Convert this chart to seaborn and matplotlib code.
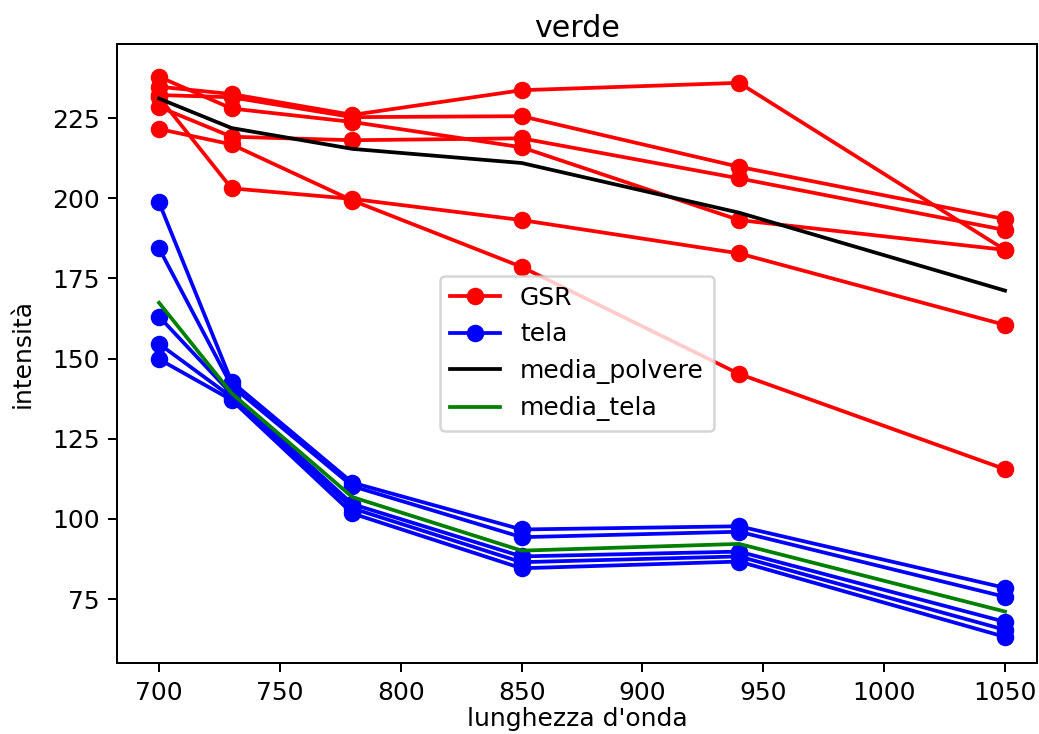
import matplotlib
matplotlib.use("Agg")
import matplotlib.pyplot as plt
import seaborn as sns
import pandas as pd

# Wavelengths (nm)
lunghezze = [700, 730, 780, 850, 940, 1050]

# GSR powder samples, intensity in the green channel
gsr_1 = [234.8, 232.5, 226.0, 233.7, 236.0, 183.9]
gsr_2 = [232.2, 231.5, 225.3, 225.6, 209.8, 193.5]
gsr_3 = [237.9, 228.0, 223.8, 215.9, 193.2, 183.9]
gsr_4 = [228.5, 219.2, 218.1, 218.7, 206.2, 190.1]
gsr_5 = [231.5, 203.1, 199.8, 193.2, 182.8, 160.5]
gsr_6 = [221.6, 216.8, 199.3, 178.6, 145.2, 115.5]

# Fabric samples
tela_1 = [198.7, 142.8, 111.3, 96.7, 97.7, 78.5]
tela_2 = [184.4, 141.5, 110.2, 94.3, 96.0, 75.7]
tela_3 = [163.1, 139.0, 104.6, 88.3, 89.8, 67.9]
tela_4 = [154.6, 138.0, 103.3, 86.5, 88.3, 65.4]
tela_5 = [149.8, 137.1, 101.7, 84.6, 86.7, 63.2]

# Averages
media_polvere = [231.1, 221.9, 215.4, 211.0, 195.5, 171.2]
media_tela = [167.4, 139.2, 106.8, 90.1, 92.2, 71.1]

gsr = [gsr_1, gsr_2, gsr_3, gsr_4, gsr_5, gsr_6]
tela = [tela_1, tela_2, tela_3, tela_4, tela_5]

plt.rcParams["font.family"] = ["DejaVu Sans"]
plt.rcParams["font.size"] = 10

DPI = 180
fig = plt.figure(figsize=(1039 / DPI, 734 / DPI), dpi=DPI)
ax = fig.add_axes([0.1126, 0.0967, 0.8854, 0.8433])

def draw(values, color, label=None, marker="o"):
    df = pd.DataFrame({"x": lunghezze, "y": values})
    kw = dict(marker=marker, markersize=6, markeredgecolor=color,
              markerfacecolor=color, markeredgewidth=1.0) if marker else {}
    sns.lineplot(data=df, x="x", y="y", color=color, linewidth=1.5,
                 ax=ax, label=label, legend=False, sort=False, **kw)

for i, serie in enumerate(gsr):
    draw(serie, "red", "GSR" if i == 0 else None)
for i, serie in enumerate(tela):
    draw(serie, "blue", "tela" if i == 0 else None)
draw(media_polvere, "black", "media_polvere", marker=None)
draw(media_tela, "green", "media_tela", marker=None)

ax.set_xlim(682.6, 1063.2)
ax.set_ylim(55.05, 248.1)
ax.set_xticks([700, 750, 800, 850, 900, 950, 1000, 1050])
ax.set_yticks([75, 100, 125, 150, 175, 200, 225])
ax.set_title("verde", fontsize=12, pad=3)
ax.set_xlabel("lunghezza d'onda", labelpad=1)
ax.set_ylabel("intensità", labelpad=7)
for s in ax.spines.values():
    s.set_visible(True)
    s.set_color("black")
    s.set_linewidth(0.8)
ax.tick_params(direction="out", length=3.5, width=0.8)
ax.legend(loc="center")

fig.savefig("out.png", dpi=DPI)
